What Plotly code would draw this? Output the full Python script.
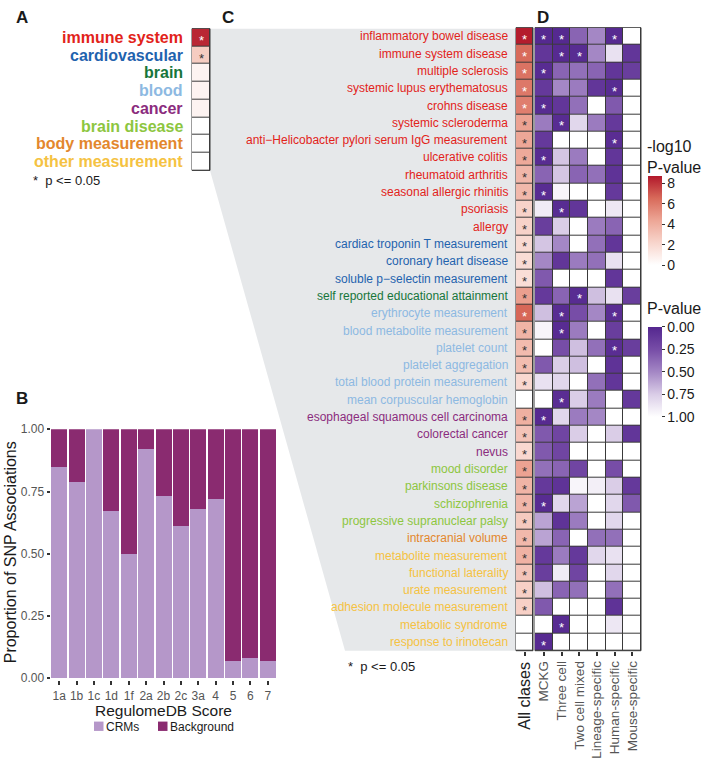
import plotly.graph_objects as go

W, H = 703, 763
FONT = "Liberation Sans, Arial, Helvetica, sans-serif"


def px_x(v):
    return v / W


def px_y(v):
    return 1 - v / H


# ---------------- Panel A data ----------------
a_categories = ["immune system", "cardiovascular", "brain", "blood", "cancer",
                "brain disease", "body measurement", "other measurement"]
a_label_colors = ["#E2231A", "#1F63AE", "#17763A", "#8DB9E2", "#8B2C7E",
                  "#8DC63F", "#E3872D", "#F5C242"]
a_neglog10_p = [8.3, 2.6, 0.6, 0.6, 0.6, 0.0, 0.0, 0.0]

# ---------------- Panel B data ----------------
b_scores = ["1a", "1b", "1c", "1d", "1f", "2a", "2b", "2c", "3a", "4", "5", "6", "7"]
b_crms = [0.85, 0.79, 1.00, 0.67, 0.50, 0.92, 0.73, 0.61, 0.68, 0.72, 0.07, 0.08, 0.07]
b_background = [0.15, 0.21, 0.00, 0.33, 0.50, 0.08, 0.27, 0.39, 0.32, 0.28, 0.93, 0.92, 0.93]
b_legend_names = ["CRMs", "Background"]
b_colors = ["#B597C9", "#8A2B70"]

# ---------------- Panel C / D data ----------------
traits = [
    "inflammatory bowel disease", "immune system disease", "multiple sclerosis",
    "systemic lupus erythematosus", "crohns disease", "systemic scleroderma",
    "anti\u2212Helicobacter pylori serum IgG measurement", "ulcerative colitis",
    "rheumatoid arthritis", "seasonal allergic rhinitis", "psoriasis", "allergy",
    "cardiac troponin T measurement", "coronary heart disease",
    "soluble p\u2212selectin measurement", "self reported educational attainment",
    "erythrocyte measurement", "blood metabolite measurement", "platelet count",
    "platelet aggregation", "total blood protein measurement",
    "mean corpuscular hemoglobin", "esophageal squamous cell carcinoma",
    "colorectal cancer", "nevus", "mood disorder", "parkinsons disease",
    "schizophrenia", "progressive supranuclear palsy", "intracranial volume",
    "metabolite measurement", "functional laterality", "urate measurement",
    "adhesion molecule measurement", "metabolic syndrome", "response to irinotecan",
]
trait_groups = (["immune system"] * 12 + ["cardiovascular"] * 3 + ["brain"] * 1 +
                ["blood"] * 6 + ["cancer"] * 3 + ["brain disease"] * 4 +
                ["body measurement"] * 1 + ["other measurement"] * 6)
all_classes_neglog10_p = [8.6, 6.5, 6.2, 6.0, 5.8, 4.5, 4.3, 4.2, 3.6, 3.5, 2.3, 2.3,
                          1.9, 1.8, 1.7, 4.6, 6.6, 3.7, 3.4, 3.3, 2.0, 0.0,
                          3.9, 3.0, 2.0, 4.5, 3.7, 3.6, 2.7, 3.5,
                          3.8, 2.9, 2.4, 2.4, 0.0, 0.0]

all_classes_label = "All clases"
d_classes = ["MCKG", "Three cell", "Two cell mixed", "Lineage-specific",
             "Human-specific", "Mouse-specific"]
p_mckg = [0.01, 0.10, 0.03, 0.12, 0.03, 0.45, 0.12, 0.03, 0.35, 0.03, 0.90, 0.15,
          0.72, 0.50, 0.30, 0.12, 0.70, 0.95, 1.00, 0.30, 0.85, 1.00, 0.02, 0.30,
          0.30, 0.40, 0.12, 0.03, 0.60, 0.60, 0.12, 0.15, 0.70, 0.30, 1.00, 0.02]
p_three_cell = [0.01, 0.02, 0.35, 0.50, 0.10, 0.03, 1.00, 0.72, 0.72, 0.95, 0.03, 0.75,
                0.50, 0.10, 1.00, 0.35, 0.03, 0.03, 0.25, 0.75, 0.80, 0.04, 0.80, 0.20,
                0.20, 0.35, 0.08, 0.80, 0.08, 0.35, 0.45, 0.90, 0.35, 1.00, 0.03, 1.00]
p_two_cell_mixed = [0.35, 0.03, 0.40, 0.45, 0.40, 0.80, 1.00, 0.45, 0.35, 1.00, 0.10, 1.00,
                    1.00, 0.45, 1.00, 0.03, 0.25, 0.45, 0.70, 0.70, 1.00, 0.75, 0.45, 0.75,
                    1.00, 0.20, 0.95, 0.60, 0.45, 1.00, 0.12, 0.20, 0.40, 1.00, 1.00, 1.00]
p_lineage = [0.50, 0.50, 0.35, 0.10, 1.00, 0.45, 1.00, 1.00, 0.40, 1.00, 1.00, 0.45,
             0.40, 0.40, 1.00, 0.70, 0.50, 1.00, 0.40, 1.00, 0.40, 0.45, 0.50, 1.00,
             1.00, 1.00, 0.92, 1.00, 1.00, 0.40, 0.80, 1.00, 1.00, 1.00, 1.00, 1.00]
p_human = [0.02, 0.85, 0.10, 0.03, 0.30, 0.12, 0.04, 0.10, 0.08, 0.12, 0.88, 0.35,
           0.10, 0.85, 0.10, 0.85, 0.04, 0.15, 0.04, 0.08, 0.10, 1.00, 1.00, 0.75,
           1.00, 0.25, 0.75, 0.80, 0.80, 0.40, 0.85, 0.80, 0.40, 0.08, 0.88, 1.00]
p_mouse = [1.00, 0.10, 0.15, 1.00, 1.00, 1.00, 1.00, 1.00, 1.00, 1.00, 1.00, 1.00,
           1.00, 1.00, 1.00, 0.15, 1.00, 1.00, 0.15, 1.00, 1.00, 0.12, 1.00, 0.10,
           1.00, 1.00, 0.12, 0.30, 1.00, 1.00, 1.00, 1.00, 1.00, 1.00, 1.00, 1.00]
d_columns = [p_mckg, p_three_cell, p_two_cell_mixed, p_lineage, p_human, p_mouse]

group_colors = dict(zip(a_categories, a_label_colors))

RED = [[0, "#FFFFFF"], [0.25, "#F8D5CC"], [0.5, "#EDA696"], [0.75, "#D86A5A"], [1, "#B2182B"]]
PURPLE = [[0, "#FFFFFF"], [0.25, "#DACDE7"], [0.5, "#A487C5"], [0.75, "#774DA7"], [1, "#54278F"]]
ZMAX_RED = 8.7
SIG = 1.30103  # -log10(0.05)

fig = go.Figure()

# ---- Panel B: stacked bars
fig.add_trace(go.Bar(x=b_scores, y=b_crms, marker=dict(color=b_colors[0], line=dict(width=0)),
                     name=b_legend_names[0], xaxis="x", yaxis="y", showlegend=False))
fig.add_trace(go.Bar(x=b_scores, y=b_background, marker=dict(color=b_colors[1], line=dict(width=0)),
                     name=b_legend_names[1], xaxis="x", yaxis="y", showlegend=False))

# ---- Panel A heatmap
fig.add_trace(go.Heatmap(z=[[v] for v in a_neglog10_p], x=["A"], y=a_categories,
                         xaxis="x2", yaxis="y2", colorscale=RED, zmin=0, zmax=ZMAX_RED,
                         showscale=False, xgap=1, ygap=1, hoverinfo="skip"))

# ---- Panel C heatmap (All classes)
fig.add_trace(go.Heatmap(
    z=[[v] for v in all_classes_neglog10_p], x=[all_classes_label], y=traits,
    xaxis="x3", yaxis="y3", colorscale=RED, zmin=0, zmax=ZMAX_RED, xgap=1, ygap=1,
    hoverinfo="skip",
    colorbar=dict(x=px_x(648), xanchor="left", xpad=0, y=px_y(172), yanchor="top", ypad=0,
                  len=90 / H, lenmode="fraction", thickness=14, thicknessmode="pixels",
                  outlinewidth=0, ticks="outside", ticklen=3, tickcolor="#333",
                  tickvals=[0, 2, 4, 6, 8], tickfont=dict(size=14, color="#1a1a1a"),
                  title=dict(text="")),
))

# ---- Panel D heatmap (p-values, displayed as 1 - p so 0.00 sits at the top of the bar)
z_d = [[1 - col[i] for col in d_columns] for i in range(len(traits))]
fig.add_trace(go.Heatmap(
    z=z_d, x=d_classes, y=traits, xaxis="x4", yaxis="y3", colorscale=PURPLE,
    zmin=0, zmax=1, xgap=1, ygap=1, hoverinfo="skip",
    colorbar=dict(x=px_x(648), xanchor="left", xpad=0, y=px_y(325), yanchor="top", ypad=0,
                  len=91 / H, lenmode="fraction", thickness=14, thicknessmode="pixels",
                  outlinewidth=0, ticks="outside", ticklen=3, tickcolor="#333",
                  tickvals=[1, 0.75, 0.5, 0.25, 0],
                  ticktext=["0.00", "0.25", "0.50", "0.75", "1.00"],
                  tickfont=dict(size=14, color="#1a1a1a"), title=dict(text="")),
))

annotations = []
shapes = []

# gray connector polygon
poly = [(210, 22), (516, 22), (516, 654), (345, 654), (210, 166)]
path = "M " + " L ".join(f"{px_x(a):.5f},{px_y(b):.5f}" for a, b in poly) + " Z"
shapes.append(dict(type="path", path=path, xref="paper", yref="paper",
                   fillcolor="#E6E8EA", line=dict(width=0), layer="below"))

# dark backgrounds behind heatmaps (visible through gaps)
for xr, yr in [("x2", "y2"), ("x3", "y3"), ("x4", "y3")]:
    shapes.append(dict(type="rect", xref=f"{xr} domain", yref=f"{yr} domain",
                       x0=0, x1=1, y0=0, y1=1, fillcolor="#3a3a3a",
                       line=dict(color="#3a3a3a", width=1), layer="below"))

# Panel A labels and stars
for cat, col, v in zip(a_categories, a_label_colors, a_neglog10_p):
    annotations.append(dict(x=px_x(185), xref="paper", y=cat, yref="y2", xanchor="right",
                            yanchor="middle", showarrow=False, text=f"<b>{cat}</b>",
                            font=dict(size=16, color=col)))
    if v >= SIG:
        annotations.append(dict(x="A", xref="x2", y=cat, yref="y2", showarrow=False,
                                text="*", yshift=-3,
                                font=dict(size=13, color="#FFFFFF" if v > 5 else "#333333")))

# Panel C labels and stars
for t, g, v in zip(traits, trait_groups, all_classes_neglog10_p):
    annotations.append(dict(x=px_x(510), xref="paper", y=t, yref="y3", xanchor="right",
                            yanchor="middle", showarrow=False, text=t,
                            font=dict(size=12, color=group_colors[g])))
    if v >= SIG:
        annotations.append(dict(x=all_classes_label, xref="x3", y=t, yref="y3", showarrow=False,
                                text="*", yshift=-3,
                                font=dict(size=13, color="#FFFFFF" if v > 5 else "#333333")))

# Panel D stars
for j, cls in enumerate(d_classes):
    for i, t in enumerate(traits):
        if d_columns[j][i] <= 0.05:
            annotations.append(dict(x=cls, xref="x4", y=t, yref="y3", showarrow=False,
                                    text="*", yshift=-3, font=dict(size=13, color="#FFFFFF")))

# panel letters
for letter, (lx, ly) in {"A": (22, 11), "B": (22, 398), "C": (228, 11), "D": (543, 11)}.items():
    annotations.append(dict(x=px_x(lx), y=px_y(ly), xref="paper", yref="paper", showarrow=False,
                            text=f"<b>{letter}</b>", font=dict(size=17, color="#1a1a1a"),
                            xanchor="center", yanchor="middle"))

# significance notes
for (nx, ny) in [(31, 176), (346, 670)]:
    annotations.append(dict(x=px_x(nx), y=px_y(ny), xref="paper", yref="paper", showarrow=False,
                            text="*  p <= 0.05", font=dict(size=13, color="#1a1a1a"),
                            xanchor="left", yanchor="middle"))

# colorbar titles
annotations.append(dict(x=px_x(645), y=px_y(152), xref="paper", yref="paper", showarrow=False,
                        text="-log10<br>P-value", align="left", font=dict(size=16, color="#1a1a1a"),
                        xanchor="left", yanchor="middle"))
annotations.append(dict(x=px_x(645), y=px_y(306), xref="paper", yref="paper", showarrow=False,
                        text="P-value", font=dict(size=16, color="#1a1a1a"),
                        xanchor="left", yanchor="middle"))

# Panel B titles
annotations.append(dict(x=px_x(10), y=px_y(554), xref="paper", yref="paper", showarrow=False,
                        text="Proportion of SNP Associations", textangle=-90,
                        font=dict(size=16, color="#1a1a1a"), xanchor="center", yanchor="middle"))
annotations.append(dict(x=px_x(163), y=px_y(715), xref="paper", yref="paper", showarrow=False,
                        text="RegulomeDB Score", font=dict(size=15.5, color="#1a1a1a"),
                        xanchor="center", yanchor="middle"))

# Panel B legend (manual)
for name, col, sx in zip(b_legend_names, b_colors, [94, 158]):
    shapes.append(dict(type="rect", xref="paper", yref="paper", x0=px_x(sx), x1=px_x(sx + 9.5),
                       y0=px_y(735.5), y1=px_y(726), fillcolor=col, line=dict(width=0)))
    annotations.append(dict(x=px_x(sx + 10), y=px_y(731), xref="paper", yref="paper",
                            showarrow=False, text=name, font=dict(size=12, color="#1a1a1a"),
                            xanchor="left", yanchor="middle"))

noaxis = dict(showgrid=False, zeroline=False, showline=False)

fig.update_layout(
    width=W, height=H, margin=dict(l=0, r=0, t=0, b=0),
    paper_bgcolor="white", plot_bgcolor="white",
    font=dict(family=FONT, color="#1a1a1a"),
    barmode="stack", bargap=0.08, showlegend=False,
    xaxis=dict(domain=[px_x(50.5), px_x(276.5)], anchor="y", range=[-0.5, 12.5],
               type="category", ticks="outside", ticklen=4, tickwidth=2, tickcolor="#333",
               tickfont=dict(size=12, color="#555555"), **noaxis),
    yaxis=dict(domain=[px_y(684), px_y(429)], anchor="x", range=[-0.008, 1.0],
               tickvals=[0, 0.25, 0.5, 0.75, 1.0],
               ticktext=["0.00", "0.25", "0.50", "0.75", "1.00"],
               ticks="outside", ticklen=3, tickwidth=2, tickcolor="#333",
               tickfont=dict(size=12, color="#555555"), **noaxis),
    xaxis2=dict(domain=[px_x(192), px_x(210)], anchor="y2", range=[-0.5, 0.5],
                showticklabels=False, ticks="", **noaxis),
    yaxis2=dict(domain=[px_y(166), px_y(22)], anchor="x2", range=[7.5, -0.5],
                showticklabels=False, ticks="", **noaxis),
    xaxis3=dict(domain=[px_x(516), px_x(533)], anchor="y3", range=[-0.5, 0.5],
                ticks="outside", ticklen=4,
                tickwidth=2, tickcolor="#333", tickangle=-90,
                tickfont=dict(size=16, color="#222222"), **noaxis),
    yaxis3=dict(domain=[px_y(654), px_y(21)], anchor="x3", range=[35.5, -0.5],
                showticklabels=False, ticks="", **noaxis),
    xaxis4=dict(domain=[px_x(535), px_x(641)], anchor="y3", range=[-0.5, 5.5],
                ticks="outside", ticklen=4,
                tickwidth=2, tickcolor="#333", tickangle=-90,
                tickfont=dict(size=13.5, color="#555555"), **noaxis),
    annotations=annotations, shapes=shapes,
)

fig.write_html("out.html", config={"displayModeBar": False},
               post_script="document.body.style.margin='0';")
